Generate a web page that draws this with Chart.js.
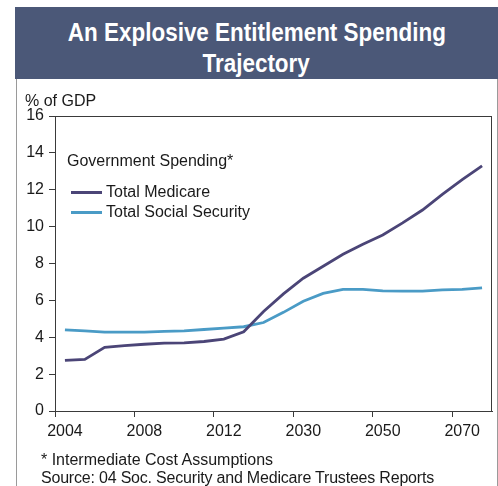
<!DOCTYPE html>
<html><head><meta charset="utf-8">
<script src="https://cdn.jsdelivr.net/npm/chart.js@4/dist/chart.umd.min.js"></script>
<style>
html,body{margin:0;padding:0;background:#fff;}
#wrap{position:relative;width:498px;height:486px;overflow:hidden;font-family:"Liberation Sans",Arial,sans-serif;color:#1a1a1a;}
#banner{position:absolute;left:15px;top:7px;width:483px;height:72px;background:#4b5878;color:#fff;text-align:center;font-family:"Liberation Sans",Arial,sans-serif;font-weight:bold;font-size:26px;line-height:31px;box-sizing:border-box;padding-top:9.5px;}
#banner span{display:inline-block;white-space:nowrap;transform-origin:50% 50%;}
#frame{position:absolute;left:16px;top:79px;width:482px;height:420px;border-left:1px solid #9a9a9a;border-right:1px solid #9a9a9a;box-sizing:border-box;}
canvas{position:absolute;left:0;top:0;}
.t{position:absolute;white-space:nowrap;font-size:16px;line-height:16px;}
.sw{position:absolute;width:31px;height:3px;}
</style>
</head><body>
<div id="wrap">
  <div id="frame"></div>
  <div id="banner"><span id="tl1">An Explosive Entitlement Spending</span><br><span id="tl2">Trajectory</span></div>
  <canvas id="c" width="498" height="486"></canvas>
  <div class="t" style="left:25px;top:93px;">% of GDP</div>
  <div class="t" id="lgTitle" style="left:67px;top:153px;"></div>
  <div class="sw" id="sw0" style="left:71px;top:191px;"></div>
  <div class="t" id="lg0" style="left:106px;top:184px;"></div>
  <div class="sw" id="sw1" style="left:71px;top:211px;"></div>
  <div class="t" id="lg1" style="left:106px;top:204px;"></div>
  <div class="t" style="left:41px;top:452px;">* Intermediate Cost Assumptions</div>
  <div class="t" style="left:41px;top:470px;letter-spacing:-0.2px;">Source: 04 Soc. Security and Medicare Trustees Reports</div>
</div>
<script>
const categories = ['2004','2005','2006','2007','2008','2009','2010','2011','2012','2015','2020','2025','2030','2035','2040','2045','2050','2055','2060','2065','2070','2075'];
const labelEvery = 4;
const legendTitle = 'Government Spending*';
const seriesNames = ['Total Medicare', 'Total Social Security'];
const medicare = [2.75, 2.8, 3.45, 3.55, 3.62, 3.68, 3.7, 3.77, 3.9, 4.3, 5.4, 6.35, 7.2, 7.85, 8.5, 9.05, 9.55, 10.2, 10.9, 11.75, 12.55, 13.3];
const socialSecurity = [4.4, 4.35, 4.28, 4.28, 4.28, 4.32, 4.35, 4.42, 4.49, 4.57, 4.8, 5.35, 5.95, 6.38, 6.6, 6.6, 6.52, 6.5, 6.5, 6.57, 6.6, 6.68];
const yTicks = {min: 0, max: 16, step: 2};
const colors = ['#4b4577', '#4a9bc6'];

// condense the banner title like a narrow bold face
(function () {
  const l1 = document.getElementById('tl1'), l2 = document.getElementById('tl2');
  const w = l1.getBoundingClientRect().width;
  const k = 378 / w;
  l1.style.transform = 'scaleX(' + k + ')';
  l2.style.transform = 'scaleX(' + k + ')';
})();

document.getElementById('lgTitle').textContent = legendTitle;
seriesNames.forEach((n, i) => {
  document.getElementById('lg' + i).textContent = n;
  document.getElementById('sw' + i).style.background = colors[i];
});

const boxPlugin = {
  id: 'box',
  beforeDatasetsDraw(chart) {
    const {ctx, chartArea: a} = chart;
    ctx.save();
    ctx.strokeStyle = '#3a3a3a';
    ctx.lineWidth = 1;
    ctx.strokeRect(Math.round(a.left) + 0.5, Math.round(a.top) + 0.5, Math.round(a.right - a.left) - 1, Math.round(a.bottom - a.top));
    ctx.restore();
  }
};

const font = {family: '"Liberation Sans", Arial, sans-serif', size: 16};
new Chart(document.getElementById('c'), {
  type: 'line',
  data: {
    labels: categories,
    datasets: [
      {label: seriesNames[0], data: medicare, borderColor: colors[0], borderWidth: 2.8, pointRadius: 0, tension: 0, fill: false},
      {label: seriesNames[1], data: socialSecurity, borderColor: colors[1], borderWidth: 2.8, pointRadius: 0, tension: 0, fill: false}
    ]
  },
  options: {
    responsive: false,
    animation: false,
    devicePixelRatio: 1,
    layout: {padding: {left: 15, top: 116, right: 6, bottom: 45}},
    plugins: {legend: {display: false}, tooltip: {enabled: false}, title: {display: false}},
    scales: {
      x: {
        type: 'category',
        offset: true,
        grid: {offset: true, drawOnChartArea: false, drawTicks: true, tickLength: 6, color: (ctx) => (ctx.index % labelEvery === 0 && ctx.index < categories.length) ? '#3a3a3a' : 'rgba(0,0,0,0)'},
        border: {color: '#3a3a3a', width: 1},
        ticks: {autoSkip: false, maxRotation: 0, minRotation: 0, padding: 5, color: '#1a1a1a', font,
          callback: (v, i) => i % labelEvery === 0 ? categories[i] : ''},
        afterFit: (s) => { s.height = 30; }
      },
      y: {
        min: yTicks.min, max: yTicks.max,
        grid: {drawOnChartArea: false, drawTicks: true, tickLength: 6, color: '#3a3a3a'},
        border: {color: '#3a3a3a', width: 1},
        ticks: {stepSize: yTicks.step, padding: 5, color: '#1a1a1a', font},
        afterFit: (s) => { s.width = 40; }
      }
    }
  },
  plugins: [boxPlugin]
});
</script>
</body></html>
